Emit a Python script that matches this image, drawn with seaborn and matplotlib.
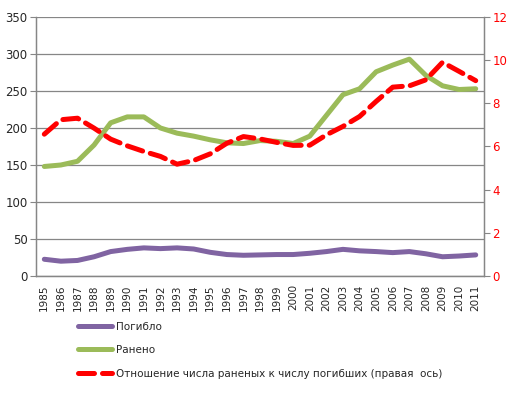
import pandas as pd
import numpy as np
import matplotlib
matplotlib.use('Agg')
import matplotlib.pyplot as plt
import seaborn as sns
from matplotlib.lines import Line2D

# Data
years = list(range(1985, 2012))
killed = [22.6, 20, 21, 26, 33, 36, 38, 37, 38, 36.5, 32, 29, 28, 28.5,
          29, 29, 30.7, 33, 36, 34, 33, 31.6, 33, 30, 26, 27, 28.5]
injured = [148, 150, 155, 177, 207, 215, 215, 200, 193, 189, 184, 180, 179, 183,
           182, 179, 189, 217, 245, 253, 276, 285, 293, 271, 257, 252, 253]
ratio = [6.57, 7.24, 7.31, 6.85, 6.34, 6.03, 5.77, 5.54, 5.18, 5.35, 5.66, 6.15, 6.46, 6.35,
         6.19, 6.05, 6.06, 6.54, 6.93, 7.39, 8.09, 8.75, 8.81, 9.09, 9.9, 9.48, 9.05]
labels = ['Погибло', 'Ранено', 'Отношение числа раненых к числу погибших (правая  ось)']

df = pd.DataFrame({'year': years, 'killed': killed, 'injured': injured, 'ratio': ratio})

sns.set_style('white')
plt.rcParams['font.family'] = ['DejaVu Sans']

purple = '#8064A2'
green = '#9BBB59'
red = '#FF0000'
gray = '#868686'
dash = (0, (3.2, 1.6))

fig = plt.figure(figsize=(5.13, 3.94), dpi=100)
ax = fig.add_axes([0.0702, 0.2995, 0.8733, 0.6574])
ax2 = ax.twinx()

sns.lineplot(data=df, x='year', y='killed', ax=ax, color=purple, lw=3.6, solid_capstyle='round')
sns.lineplot(data=df, x='year', y='injured', ax=ax, color=green, lw=3.6, solid_capstyle='round')
sns.lineplot(data=df, x='year', y='ratio', ax=ax2, color=red, lw=3.6,
             linestyle=dash, dash_capstyle='round')

ax.set_ylim(0, 350)
ax.set_yticks(np.arange(0, 351, 50))
ax2.set_ylim(0, 12)
ax2.set_yticks(np.arange(0, 13, 2))
ax.set_xlim(years[0] - 0.5, years[-1] + 0.5)
ax.set_xticks(years)
ax.set_xticklabels([str(y) for y in years], rotation=90, fontsize=7.5)
ax.set_xticks(np.arange(years[0] - 0.5, years[-1] + 1, 1), minor=True)
ax.tick_params(axis='x', which='major', length=0, pad=6)
ax.tick_params(axis='x', which='minor', length=4, color=gray, width=0.8)
ax.tick_params(axis='y', length=4, color=gray, width=0.8, labelsize=8.5, pad=2)
ax2.tick_params(axis='y', length=4, color=gray, width=0.8, labelsize=8.5, labelcolor=red, pad=2)

ax.yaxis.grid(True, color=gray, lw=0.9)
ax.set_axisbelow(True)
ax.set_xlabel('')
ax.set_ylabel('')
ax2.set_ylabel('')

for a in (ax, ax2):
    a.spines['top'].set_visible(False)
    for side in ('left', 'right', 'bottom'):
        a.spines[side].set_color(gray)
        a.spines[side].set_linewidth(0.9)

handles = [Line2D([], [], color=purple, lw=3.6, solid_capstyle='round'),
           Line2D([], [], color=green, lw=3.6, solid_capstyle='round'),
           Line2D([], [], color=red, lw=3.6, linestyle=dash, dash_capstyle='round')]
fig.legend(handles, labels, loc='upper left', bbox_to_anchor=(0.152, 0.184), frameon=False,
           fontsize=7.5, handlelength=3.25, handletextpad=0.38, labelspacing=1.3,
           borderaxespad=0, borderpad=0)

fig.savefig('out.png', dpi=100)
